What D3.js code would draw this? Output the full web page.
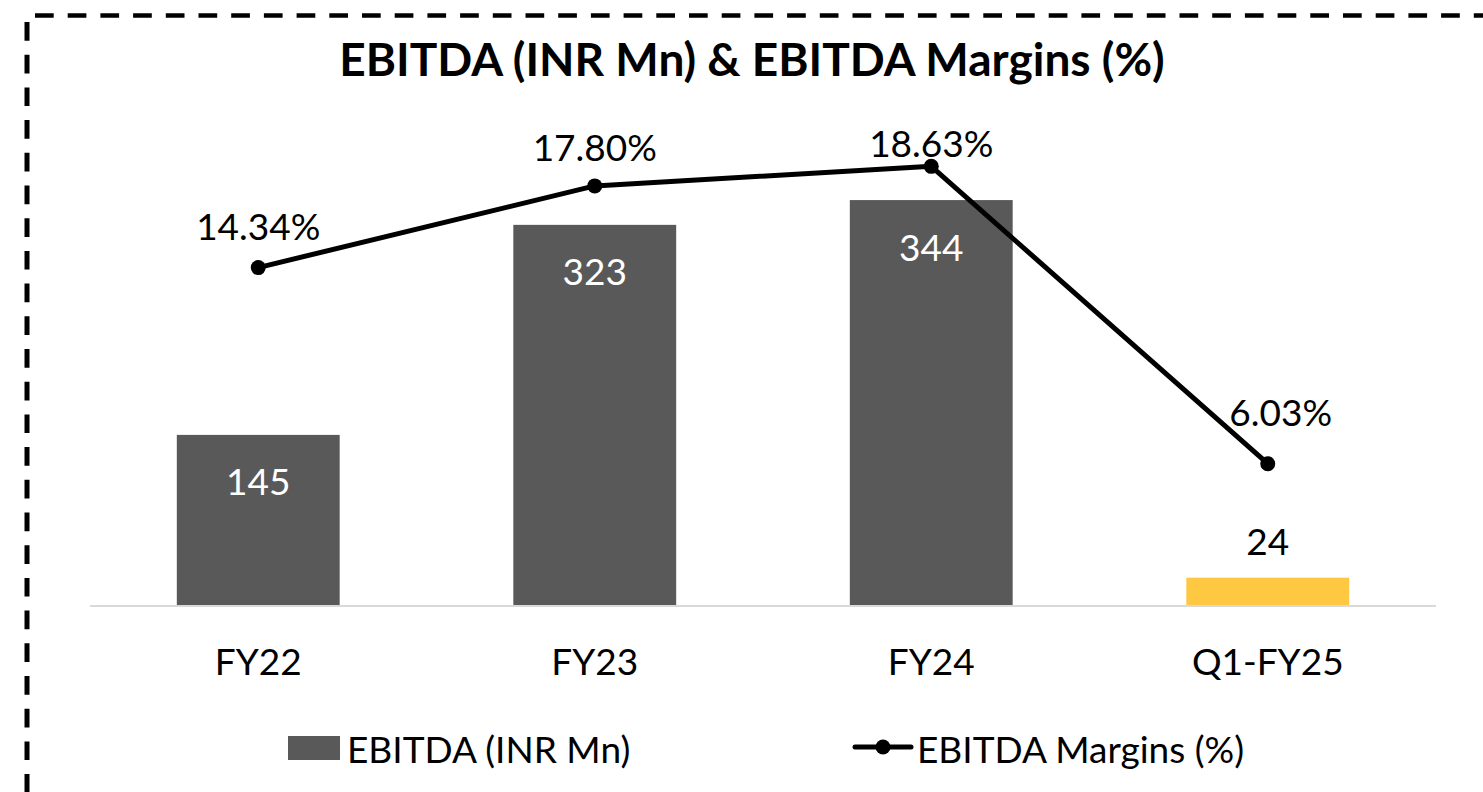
<!DOCTYPE html>
<html>
<head>
<meta charset="utf-8">
<script src="https://cdn.jsdelivr.net/npm/d3@7"></script>
<style>
  body { margin: 0; background: #fff; }
  text { font-family: Lato, "Open Sans", sans-serif; }
</style>
</head>
<body>
<svg id="chart" width="1483" height="792"></svg>
<script>
// data
var categories = ["FY22", "FY23", "FY24", "Q1-FY25"];
var ebitda = [145, 323, 344, 24];
var margins = [14.34, 17.80, 18.63, 6.03];
var seriesNames = ["EBITDA (INR Mn)", "EBITDA Margins (%)"];
var titleText = "EBITDA (INR Mn) & EBITDA Margins (%)";

(function() {
var barGray = "#595959";
var barYellow = "#FFC842";
// the last period is highlighted
var barColor = function(i) { return i == categories.length - 1 ? barYellow : barGray; };
// per-label nudges for the margin labels (moved by hand in the original)
var marginNudge = [[0, -42], [0, -39], [0, -24], [13, -52]];
var fs = 37;

var svg = d3.select("#chart");

// dashed frame, runs off the right and bottom of the picture
svg.append("line")
  .attr("x1", 35).attr("y1", 15.5).attr("x2", 1483).attr("y2", 15.5)
  .attr("stroke", "#000").attr("stroke-width", 4.5)
  .attr("stroke-dasharray", "18.7,14");
svg.append("line")
  .attr("x1", 27).attr("y1", 22).attr("x2", 27).attr("y2", 792)
  .attr("stroke", "#000").attr("stroke-width", 5)
  .attr("stroke-dasharray", "18.7,14");

var left = 90, right = 1436, base = 606, plotTop = 134;

var x = d3.scaleBand().domain(categories).range([left, right]).paddingInner(0.516).paddingOuter(0.258);
var y = d3.scaleLinear().domain([0, 400]).range([base, plotTop]);
var y2 = d3.scaleLinear().domain([0, 20]).range([base, plotTop]);

svg.append("text")
  .attr("x", 752).attr("y", 58)
  .attr("text-anchor", "middle").attr("dominant-baseline", "central")
  .attr("font-size", 46).attr("font-weight", "bold")
  .text(titleText);

// bars
svg.selectAll("rect.bar")
  .data(ebitda)
  .enter()
  .append("rect")
  .attr("class", "bar")
  .attr("x", function(d, i) { return x(categories[i]); })
  .attr("y", function(d) { return y(d); })
  .attr("width", x.bandwidth())
  .attr("height", function(d) { return base - y(d); })
  .attr("fill", function(d, i) { return barColor(i); });

// category axis
var xAxis = svg.append("g")
  .attr("transform", "translate(0," + base + ")")
  .call(d3.axisBottom(x).tickSize(0));
xAxis.select(".domain").attr("stroke", "#d9d9d9").attr("stroke-width", 2)
  .attr("d", "M" + left + ",0H" + right);
xAxis.selectAll("text")
  .attr("font-size", fs).attr("fill", "#000")
  .attr("dy", null).attr("y", 54).attr("dominant-baseline", "central")
  .style("font-family", "Lato, sans-serif");

// bar value labels: inside the top for tall bars, above the small one
svg.selectAll("text.barlab")
  .data(ebitda)
  .enter()
  .append("text")
  .attr("class", "barlab")
  .attr("x", function(d, i) { return x(categories[i]) + x.bandwidth() / 2; })
  .attr("y", function(d) { return d > 60 ? y(d) + 46 : y(d) - 37; })
  .attr("text-anchor", "middle").attr("dominant-baseline", "central")
  .attr("font-size", fs)
  .attr("fill", function(d) { return d > 60 ? "#fff" : "#000"; })
  .text(function(d) { return d; });

// margin line
var line = d3.line()
  .x(function(d, i) { return x(categories[i]) + x.bandwidth() / 2; })
  .y(function(d) { return y2(d); });

svg.append("path")
  .datum(margins)
  .attr("d", line)
  .attr("fill", "none").attr("stroke", "#000")
  .attr("stroke-width", 5).attr("stroke-linejoin", "round");

svg.selectAll("circle.pt")
  .data(margins)
  .enter()
  .append("circle")
  .attr("class", "pt")
  .attr("cx", function(d, i) { return x(categories[i]) + x.bandwidth() / 2; })
  .attr("cy", function(d) { return y2(d); })
  .attr("r", 7.5)
  .attr("fill", "#000");

svg.selectAll("text.mlab")
  .data(margins)
  .enter()
  .append("text")
  .attr("class", "mlab")
  .attr("x", function(d, i) { return x(categories[i]) + x.bandwidth() / 2 + marginNudge[i][0]; })
  .attr("y", function(d, i) { return y2(d) + marginNudge[i][1]; })
  .attr("text-anchor", "middle").attr("dominant-baseline", "central")
  .attr("font-size", fs)
  .text(function(d) { return d.toFixed(2) + "%"; });

// legend
var leg = svg.append("g");
leg.append("rect")
  .attr("x", 288).attr("y", 736).attr("width", 52).attr("height", 24)
  .attr("fill", barGray);
leg.append("text")
  .attr("x", 347).attr("y", 748)
  .attr("dominant-baseline", "central").attr("font-size", fs)
  .text(seriesNames[0]);
leg.append("line")
  .attr("x1", 855).attr("x2", 911).attr("y1", 747).attr("y2", 747)
  .attr("stroke", "#000").attr("stroke-width", 5).attr("stroke-linecap", "round");
leg.append("circle")
  .attr("cx", 883).attr("cy", 747).attr("r", 7.5).attr("fill", "#000");
leg.append("text")
  .attr("x", 917).attr("y", 748)
  .attr("dominant-baseline", "central").attr("font-size", fs)
  .text(seriesNames[1]);
})();
</script>
</body>
</html>
